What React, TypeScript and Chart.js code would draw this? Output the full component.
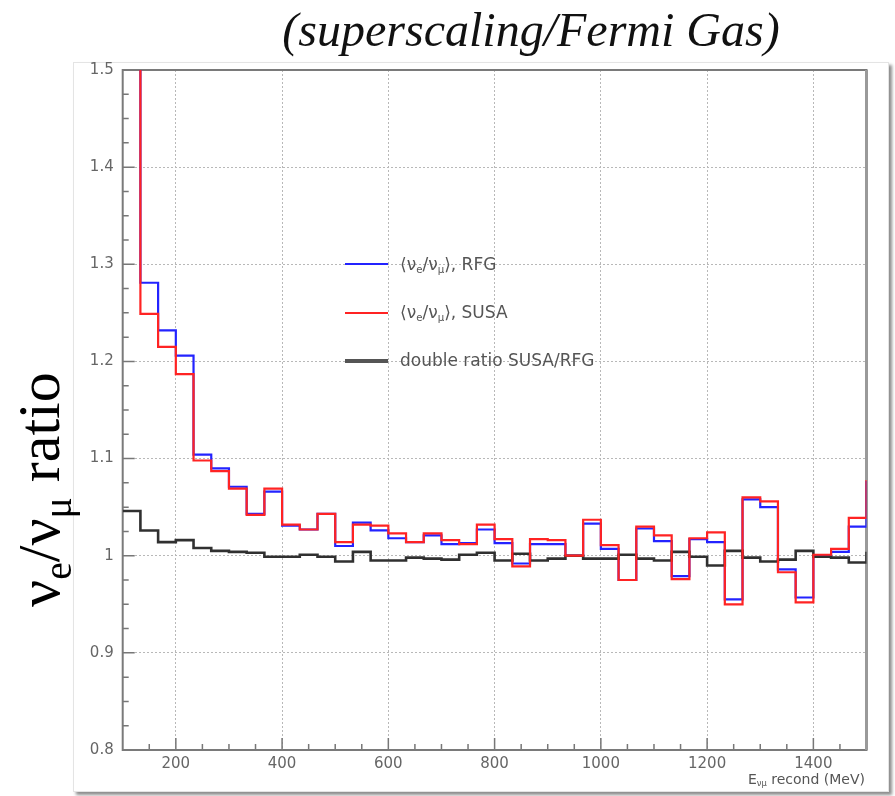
import React, { useEffect, useRef } from "react";
import { Chart, registerables } from "chart.js";

Chart.register(...registerables);

// Bin left edges (MeV); last entry is the upper edge / overflow start
const binEdges = [
  100, 133.33, 166.67, 200, 233.33, 266.67, 300, 333.33, 366.67, 400,
  433.33, 466.67, 500, 533.33, 566.67, 600, 633.33, 666.67, 700, 733.33,
  766.67, 800, 833.33, 866.67, 900, 933.33, 966.67, 1000, 1033.33, 1066.67,
  1100, 1133.33, 1166.67, 1200, 1233.33, 1266.67, 1300, 1333.33, 1366.67, 1400,
  1433.33, 1466.67, 1500,
];

const rfgRatio = [
  1.70, 1.281, 1.232, 1.206, 1.104, 1.090, 1.071, 1.043, 1.066, 1.031,
  1.027, 1.043, 1.010, 1.034, 1.026, 1.018, 1.014, 1.021, 1.012, 1.013,
  1.027, 1.013, 0.992, 1.012, 1.012, 1.000, 1.033, 1.007, 0.975, 1.028,
  1.015, 0.979, 1.017, 1.014, 0.955, 1.058, 1.050, 0.986, 0.957, 1.000,
  1.004, 1.030, 1.077,
];

const susaRatio = [
  1.75, 1.249, 1.215, 1.187, 1.098, 1.087, 1.069, 1.042, 1.069, 1.032,
  1.027, 1.043, 1.014, 1.032, 1.031, 1.023, 1.014, 1.023, 1.016, 1.012,
  1.032, 1.017, 0.989, 1.017, 1.016, 1.000, 1.037, 1.011, 0.975, 1.030,
  1.021, 0.976, 1.018, 1.024, 0.950, 1.060, 1.056, 0.983, 0.952, 1.001,
  1.007, 1.039, 1.078,
];

const doubleRatio = [
  1.046, 1.026, 1.014, 1.016, 1.008, 1.005, 1.004, 1.003, 0.999, 0.999,
  1.001, 0.999, 0.994, 1.004, 0.995, 0.995, 0.998, 0.997, 0.996, 1.001,
  1.003, 0.995, 1.002, 0.995, 0.997, 1.000, 0.997, 0.997, 1.001, 0.997,
  0.995, 1.004, 0.999, 0.990, 1.005, 0.998, 0.994, 0.996, 1.005, 0.999,
  0.998, 0.993, 1.004,
];

const xTickValues = [200, 400, 600, 800, 1000, 1200, 1400];
const xMinorTicks = [150, 250, 300, 350, 450, 500, 550, 650, 700, 750, 850, 900, 950, 1050, 1100, 1150, 1250, 1300, 1350, 1450];
const yTickValues = [0.8, 0.9, 1.0, 1.1, 1.2, 1.3, 1.4, 1.5];
const yMinorTicks = [0.825, 0.85, 0.875, 0.925, 0.95, 0.975, 1.025, 1.05, 1.075, 1.125, 1.15, 1.175, 1.225, 1.25, 1.275, 1.325, 1.35, 1.375, 1.425, 1.45, 1.475];

const toPoints = (vals: number[]) => binEdges.map((x, i) => ({ x, y: vals[i] }));

const framePlugin = {
  id: "rootFrame",
  beforeDatasetsDraw(chart: any) {
    const { ctx, chartArea: a, scales } = chart;
    const x = scales.x;
    const y = scales.y;
    ctx.save();
    ctx.strokeStyle = "#777";
    ctx.lineWidth = 1.5;
    ctx.beginPath();
    xTickValues.forEach((v) => {
      const px = x.getPixelForValue(v);
      ctx.moveTo(px, a.bottom);
      ctx.lineTo(px, a.bottom - 12);
    });
    xMinorTicks.forEach((v) => {
      const px = x.getPixelForValue(v);
      ctx.moveTo(px, a.bottom);
      ctx.lineTo(px, a.bottom - 6);
    });
    yTickValues.forEach((v) => {
      const py = y.getPixelForValue(v);
      ctx.moveTo(a.left, py);
      ctx.lineTo(a.left + 12, py);
    });
    yMinorTicks.forEach((v) => {
      const py = y.getPixelForValue(v);
      ctx.moveTo(a.left, py);
      ctx.lineTo(a.left + 6, py);
    });
    ctx.stroke();
    ctx.lineWidth = 2;
    ctx.strokeStyle = "#7a7a7a";
    ctx.strokeRect(a.left, a.top, a.right - a.left, a.bottom - a.top);
    ctx.strokeStyle = "#9a9a9a";
    ctx.lineWidth = 3;
    ctx.beginPath();
    ctx.moveTo(a.right, a.top);
    ctx.lineTo(a.right, a.bottom);
    ctx.stroke();
    ctx.restore();
  },
};

export default function App() {
  const ref = useRef<HTMLCanvasElement | null>(null);

  useEffect(() => {
    if (!ref.current) return;
    const chart = new Chart(ref.current, {
      type: "line",
      data: {
        datasets: [
          {
            label: "(νe/νμ), RFG",
            data: toPoints(rfgRatio),
            borderColor: "rgb(35,35,255)",
            borderWidth: 2.2,
            stepped: "before",
            pointRadius: 0,
            fill: false,
            order: 2,
          },
          {
            label: "(νe/νμ), SUSA",
            data: toPoints(susaRatio),
            borderColor: "rgb(255,35,35)",
            borderWidth: 2.2,
            stepped: "before",
            pointRadius: 0,
            fill: false,
            order: 0,
          },
          {
            label: "double ratio SUSA/RFG",
            data: toPoints(doubleRatio),
            borderColor: "#303030",
            borderWidth: 2.6,
            stepped: "before",
            pointRadius: 0,
            fill: false,
            order: 1,
          },
        ],
      },
      options: {
        animation: false,
        responsive: false,
        layout: { padding: { left: 0, top: 70, right: 28.5, bottom: 0 } },
        plugins: { legend: { display: false }, tooltip: { enabled: false }, title: { display: false } },
        scales: {
          x: {
            type: "linear",
            min: 100,
            max: 1500,
            afterFit: (s: any) => {
              s.height = 46;
            },
            afterBuildTicks: (s: any) => {
              s.ticks = xTickValues.map((v) => ({ value: v }));
            },
            ticks: {
              font: { family: "DejaVu Sans", size: 15 },
              color: "#666",
              padding: 5,
              maxRotation: 0,
              autoSkip: false,
              callback: (v: any) => String(v),
            },
            grid: { color: "#b8b8b8", lineWidth: 1, drawTicks: false },
            border: { display: false, dash: [2, 2] },
          },
          y: {
            type: "linear",
            min: 0.8,
            max: 1.5,
            afterFit: (s: any) => {
              s.width = 122.7;
            },
            afterBuildTicks: (s: any) => {
              s.ticks = yTickValues.map((v) => ({ value: v }));
            },
            ticks: {
              font: { family: "DejaVu Sans", size: 15 },
              color: "#666",
              padding: 9,
              autoSkip: false,
              callback: (v: any) => {
                const n = Number(v);
                return Math.abs(n - 1) < 1e-9 ? "1" : n.toFixed(1);
              },
            },
            grid: { color: "#b8b8b8", lineWidth: 1, drawTicks: false },
            border: { display: false, dash: [2, 2] },
          },
        },
      },
      plugins: [framePlugin],
    });
    return () => chart.destroy();
  }, []);

  const legendText: React.CSSProperties = {
    position: "absolute",
    left: 400,
    fontFamily: "DejaVu Sans",
    fontSize: 17,
    color: "#555",
    lineHeight: "17px",
    whiteSpace: "nowrap",
  };
  const sub: React.CSSProperties = { fontSize: "0.6em", verticalAlign: "-0.25em" };
  const ysub: React.CSSProperties = { fontSize: "0.66em", verticalAlign: "-0.3em" };

  return (
    <div style={{ position: "absolute", left: 0, top: 0, width: 895, height: 796, background: "#fff", overflow: "hidden" }}>
      <div
        style={{
          position: "absolute",
          left: 73,
          top: 62,
          width: 814,
          height: 728,
          border: "1px solid #e4e4e4",
          boxShadow: "3px 3px 3px rgba(0,0,0,0.45)",
          background: "#fff",
        }}
      />
      <canvas ref={ref} width={895} height={796} style={{ position: "absolute", left: 0, top: 0, width: 895, height: 796 }} />
      <div
        style={{
          position: "absolute",
          left: 531,
          top: 6,
          transform: "translateX(-50%)",
          fontFamily: "Liberation Serif",
          fontStyle: "italic",
          fontSize: 48,
          lineHeight: "48px",
          whiteSpace: "nowrap",
          color: "#111",
        }}
      >
        (superscaling/Fermi Gas)
      </div>
      <div
        style={{
          position: "absolute",
          left: 9,
          top: 607,
          transform: "rotate(-90deg)",
          transformOrigin: "left top",
          fontFamily: "Liberation Serif",
          fontSize: 60,
          lineHeight: "60px",
          whiteSpace: "nowrap",
          color: "#000",
        }}
      >
        ν<span style={ysub}>e</span>/ν<span style={ysub}>μ</span> ratio
      </div>
      {/* legend samples */}
      <div style={{ position: "absolute", left: 345, top: 263, width: 43, height: 2, background: "rgb(35,35,255)" }} />
      <div style={{ position: "absolute", left: 345, top: 311.7, width: 43, height: 2, background: "rgb(255,35,35)" }} />
      <div style={{ position: "absolute", left: 345, top: 359, width: 43, height: 3.5, background: "#555" }} />
      <div style={{ ...legendText, top: 255.5 }}>
        ⟨ν<span style={sub}>e</span>/ν<span style={sub}>μ</span>⟩, RFG
      </div>
      <div style={{ ...legendText, top: 304.2 }}>
        ⟨ν<span style={sub}>e</span>/ν<span style={sub}>μ</span>⟩, SUSA
      </div>
      <div style={{ ...legendText, top: 352.2 }}>double ratio SUSA/RFG</div>
      <div
        style={{
          position: "absolute",
          right: 30,
          top: 772,
          fontFamily: "DejaVu Sans",
          fontSize: 14,
          lineHeight: "14px",
          color: "#555",
          whiteSpace: "nowrap",
        }}
      >
        E<span style={sub}>νμ</span> recond (MeV)
      </div>
    </div>
  );
}
